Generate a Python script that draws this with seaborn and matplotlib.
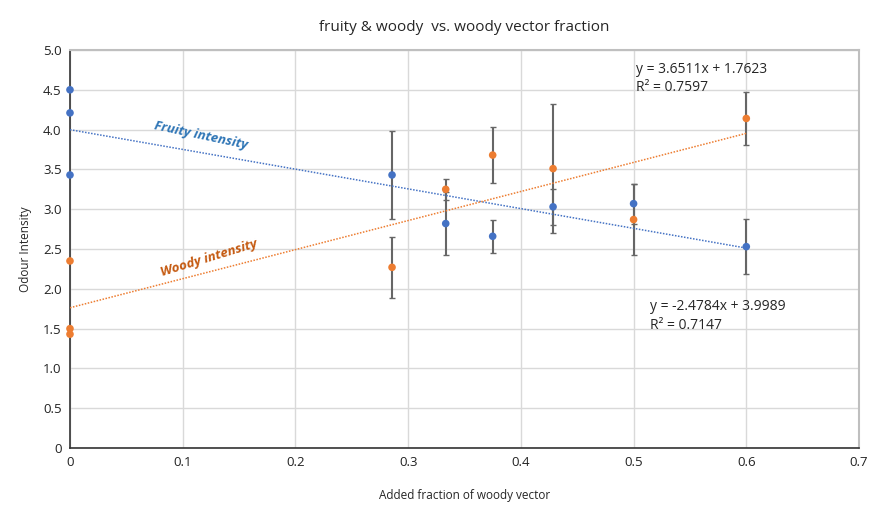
# -*- coding: utf-8 -*-

# Import libraries ======================================================================

import numpy as np
import pandas as pd
import matplotlib
matplotlib.use("Agg")
import matplotlib.pyplot as plt
import seaborn as sns

# Data ==================================================================================

fraction = [0, 0, 0, 2/7, 1/3, 3/8, 3/7, 0.5, 0.6]
fruity = [4.50, 4.21, 3.43, 3.43, 2.82, 2.66, 3.03, 3.07, 2.53]
woody = [2.35, 1.50, 1.43, 2.27, 3.25, 3.68, 3.51, 2.87, 4.14]
fruity_err = [0, 0, 0, 0.55, 0.39, 0.21, 0.23, 0.25, 0.35]
woody_err = [0, 0, 0, 0.38, 0.13, 0.35, 0.81, 0.45, 0.33]

# trendline equations as printed on the chart
fruity_fit = (-2.4784, 3.9989, 0.7147)
woody_fit = (3.6511, 1.7623, 0.7597)

blue = "#4472C4"
orange = "#ED7D31"

df = pd.DataFrame({"fraction": fraction * 2,
                   "intensity": fruity + woody,
                   "series": ["Fruity"] * len(fruity) + ["Woody"] * len(woody)})

# Plot ==================================================================================

sns.set_style("white")
plt.rcParams["font.family"] = ["Open Sans", "DejaVu Sans"]

fig = plt.figure(figsize=(8.77, 5.08), dpi=100)
ax = fig.add_axes([0.0798, 0.118, 0.8997, 0.7836])

# error bars
x = np.array(fraction)
mask = np.array(fruity_err) > 0
ax.errorbar(x[mask], np.array(fruity)[mask], yerr=np.array(fruity_err)[mask], fmt="none",
            ecolor="#666666", elinewidth=1.5, capsize=2.5, capthick=1, zorder=2)
mask = np.array(woody_err) > 0
ax.errorbar(x[mask], np.array(woody)[mask], yerr=np.array(woody_err)[mask], fmt="none",
            ecolor="#666666", elinewidth=1.5, capsize=2.5, capthick=1, zorder=2)

# trendlines
xs = np.array([0, max(fraction)])
ax.plot(xs, fruity_fit[0] * xs + fruity_fit[1], color=blue, ls=(0, (1, 1)), lw=1.1, zorder=3)
ax.plot(xs, woody_fit[0] * xs + woody_fit[1], color=orange, ls=(0, (1, 1)), lw=1.1, zorder=3)

sns.scatterplot(data=df, x="fraction", y="intensity", hue="series",
                palette={"Fruity": blue, "Woody": orange}, s=30, edgecolor="none",
                legend=False, ax=ax, zorder=4, clip_on=False)

ax.set_xlim(0, 0.7)
ax.set_ylim(0, 5.0)
ax.set_xticks(np.arange(0, 0.71, 0.1))
ax.set_xticklabels(["0", "0.1", "0.2", "0.3", "0.4", "0.5", "0.6", "0.7"])
ax.set_yticks(np.arange(0, 5.01, 0.5))
ax.set_yticklabels(["0"] + ["%.1f" % v for v in np.arange(0.5, 5.01, 0.5)])
ax.tick_params(labelsize=9.5, length=0, pad=6, colors="#222222")
ax.grid(True, color="#d9d9d9", lw=1)

for side in ["top", "right"]:
    ax.spines[side].set_color("#bfbfbf")
    ax.spines[side].set_linewidth(1.5)
for side in ["left", "bottom"]:
    ax.spines[side].set_color("#333333")
    ax.spines[side].set_linewidth(1.2)

ax.set_xlabel("Added fraction of woody vector", fontsize=8.5, labelpad=14)
ax.set_ylabel("Odour Intensity", fontsize=8.5, labelpad=8)
ax.set_title("fruity & woody  vs. woody vector fraction", fontsize=11, pad=14)

# series labels along the trendlines
ax.text(0.074, 3.72, "Fruity intensity", color="#2E75B6", fontsize=9.5, style="italic",
        weight="bold", rotation=-12, ha="left", va="bottom")
ax.text(0.079, 2.12, "Woody intensity", color="#C55A11", fontsize=9.5, style="italic",
        weight="bold", rotation=17, ha="left", va="bottom")

# trendline equations
ax.text(0.502, 4.43, "y = %.4fx + %.4f\nR² = %.4f" % woody_fit, fontsize=10,
        linespacing=1.3, va="bottom", ha="left")
ax.text(0.515, 1.45, "y = %.4fx + %.4f\nR² = %.4f" % fruity_fit, fontsize=10,
        linespacing=1.3, va="bottom", ha="left")

plt.savefig("out.png", dpi=100)
